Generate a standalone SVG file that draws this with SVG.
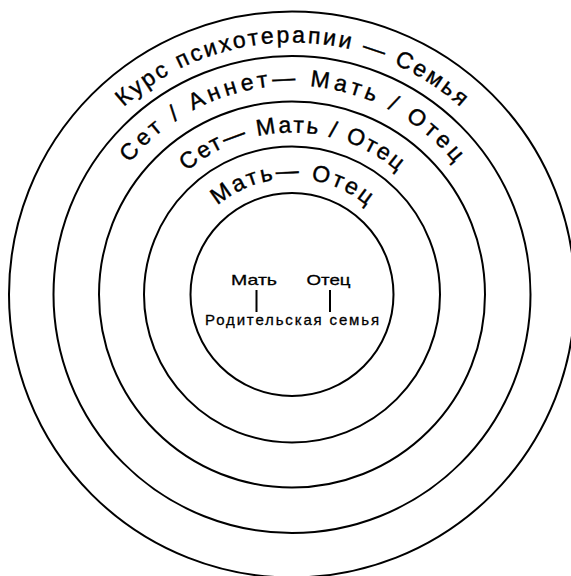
<svg xmlns="http://www.w3.org/2000/svg" width="571" height="576" viewBox="0 0 571 576">
<style>
.ring{fill:none;stroke:#000;stroke-width:2}
.arc{font-family:"Liberation Sans","DejaVu Sans",sans-serif;font-size:23px;fill:#000;stroke:#000;stroke-width:0.4}
.lbl{font-family:"Liberation Sans","DejaVu Sans",sans-serif;font-size:15px;fill:#000;stroke:#000;stroke-width:0.3}
.tick{stroke:#000;stroke-width:2}
</style>
<defs>
<path id="p1" d="M40,294.5 A252,252 0 0 1 544,294.5"/>
<path id="p2" d="M83,294.5 A209,209 0 0 1 501,294.5"/>
<path id="p3" d="M130,294.5 A162,162 0 0 1 454,294.5"/>
<path id="p4" d="M176,294.5 A116,116 0 0 1 408,294.5"/>
</defs>
<g id="ring-course">
<circle class="ring" cx="292" cy="294.5" r="283"/>
<text class="arc"><textPath href="#p1" startOffset="50%" text-anchor="middle" textLength="369" lengthAdjust="spacing">Курс психотерапии — Семья</textPath></text>
</g>
<g id="ring-set-annet">
<circle class="ring" cx="292" cy="294.5" r="238.5"/>
<text class="arc"><textPath href="#p2" startOffset="50%" text-anchor="middle" textLength="372" lengthAdjust="spacing">Сет / Аннет— Мать / Отец</textPath></text>
</g>
<g id="ring-set">
<circle class="ring" cx="292" cy="294.5" r="193"/>
<text class="arc"><textPath href="#p3" startOffset="50%" text-anchor="middle" textLength="229" lengthAdjust="spacing">Сет— Мать / Отец</textPath></text>
</g>
<g id="ring-parents">
<circle class="ring" cx="292" cy="294.5" r="148"/>
<text class="arc"><textPath href="#p4" startOffset="50%" text-anchor="middle" textLength="162" lengthAdjust="spacing">Мать— Отец</textPath></text>
</g>
<g id="family-of-origin">
<circle class="ring" cx="292" cy="294.5" r="101.5"/>
<text class="lbl" x="254" y="285" text-anchor="middle" textLength="46" lengthAdjust="spacingAndGlyphs">Мать</text>
<text class="lbl" x="328.5" y="285" text-anchor="middle" textLength="44" lengthAdjust="spacingAndGlyphs">Отец</text>
<text class="lbl" x="292" y="325" text-anchor="middle" textLength="174" lengthAdjust="spacing">Родительская семья</text>
</g>
<g id="connectors">
<line class="tick" x1="256.5" y1="290" x2="256.5" y2="312"/>
<line class="tick" x1="330" y1="290" x2="330" y2="312"/>
</g>
</svg>
